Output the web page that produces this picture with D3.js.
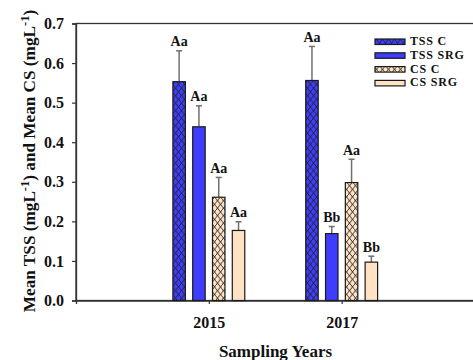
<!DOCTYPE html>
<html>
<head>
<meta charset="utf-8">
<script src="https://cdn.jsdelivr.net/npm/d3@7/dist/d3.min.js"></script>
<style>
  html, body { margin: 0; padding: 0; background: #fff; }
  svg { display: block; font-family: "Liberation Serif", "Times New Roman", serif; font-weight: bold; }
</style>
</head>
<body>
<div id="chart"></div>
<script>
// Sampling years and series
const years = [2015, 2017];
const seriesNames = ["TSS C", "TSS SRG", "CS C", "CS SRG"];
// Mean values (mg/L) per series, one entry per year
const tssC   = [0.553, 0.556];
const tssSRG = [0.439, 0.169];
const csC    = [0.261, 0.298];
const csSRG  = [0.177, 0.097];
// Upper error (standard error) per series
const tssCErr   = [0.078, 0.086];
const tssSRGErr = [0.053, 0.018];
const csCErr    = [0.050, 0.059];
const csSRGErr  = [0.022, 0.015];
// Significance letters
const tssCLab   = ["Aa", "Aa"];
const tssSRGLab = ["Aa", "Bb"];
const csCLab    = ["Aa", "Aa"];
const csSRGLab  = ["Aa", "Bb"];
const yTicks = [0.0, 0.1, 0.2, 0.3, 0.4, 0.5, 0.6, 0.7];

const W = 473, H = 360;
const mLeft = 76, mTop = 23.5, mRight = 474.5, mBottom = 300.5;

const blue = "#3d3dfb", peach = "#ffe2c4";
const fills = ["url(#zzBlue)", blue, "url(#zzPeach)", peach];
const values = [tssC, tssSRG, csC, csSRG];
const errs = [tssCErr, tssSRGErr, csCErr, csSRGErr];
const labs = [tssCLab, tssSRGLab, csCLab, csSRGLab];

const svg = d3.select("#chart").append("svg").attr("width", W).attr("height", H);

// zig-zag hatch fills
const defs = svg.append("defs");
function zigzag(id, bg) {
  const p = defs.append("pattern").attr("id", id).attr("patternUnits", "userSpaceOnUse")
    .attr("width", 6).attr("height", 7.5);
  p.append("rect").attr("width", 6).attr("height", 7.5).attr("fill", bg);
  p.append("path").attr("d", "M0,7.5 L6,0 M0,3.75 L3,7.5 M3,0 L6,3.75 M-1,6.25 L0,7.5")
    .attr("stroke", "#222").attr("stroke-width", 0.9).attr("fill", "none");
}
zigzag("zzBlue", blue);
zigzag("zzPeach", peach);

const x = d3.scaleLinear().domain([2013, 2019]).range([mLeft, mRight]);
const y = d3.scaleLinear().domain([0, 0.7]).range([mBottom, mTop]);
const inner = d3.scaleBand().domain(seriesNames).range([-39.6, 39.6])
  .paddingInner(0.37).paddingOuter(0.185);

// frame
svg.append("rect").attr("x", mLeft).attr("y", mTop).attr("width", mRight - mLeft).attr("height", mBottom - mTop)
  .attr("fill", "none").attr("stroke", "#333").attr("stroke-width", 1.3);

// axes
const yAxis = svg.append("g").attr("transform", `translate(${mLeft},0)`)
  .call(d3.axisLeft(y).tickValues(yTicks).tickFormat(d3.format(".1f")).tickSize(4).tickPadding(8));
yAxis.select(".domain").attr("stroke", "#333").attr("stroke-width", 1.3);
yAxis.selectAll(".tick line").attr("stroke", "#333").attr("stroke-width", 1.2);
yAxis.selectAll("text").attr("font-size", 16).attr("font-weight", "bold")
  .attr("font-family", "Liberation Serif").attr("fill", "#111");

const xAxis = svg.append("g").attr("transform", `translate(0,${mBottom})`)
  .call(d3.axisBottom(x).tickValues(years).tickFormat(d3.format("d")).tickSize(3.5).tickPadding(13));
xAxis.select(".domain").attr("stroke", "#333").attr("stroke-width", 1.3);
xAxis.selectAll(".tick line").attr("stroke", "#333").attr("stroke-width", 1.2);
xAxis.selectAll("text").attr("font-size", 16).attr("font-weight", "bold")
  .attr("font-family", "Liberation Serif").attr("fill", "#111");

// bars, error bars and letters
seriesNames.forEach((s, si) => {
  years.forEach((yr, yi) => {
    const x0 = x(yr) + inner(s);
    const bw = inner.bandwidth();
    const v = values[si][yi];
    const e = errs[si][yi];
    const cx = x0 + bw / 2;
    svg.append("line").attr("x1", cx).attr("x2", cx).attr("y1", y(v)).attr("y2", y(v + e))
      .attr("stroke", "#707070").attr("stroke-width", 1.5);
    svg.append("line").attr("x1", cx - 3).attr("x2", cx + 3).attr("y1", y(v + e)).attr("y2", y(v + e))
      .attr("stroke", "#707070").attr("stroke-width", 1.5);
    svg.append("rect").attr("x", x0).attr("y", y(v)).attr("width", bw).attr("height", y(0) - y(v))
      .attr("fill", fills[si]).attr("stroke", "#1a1a1a").attr("stroke-width", 1.2);
    svg.append("text").attr("x", cx).attr("y", y(v + e) - 4.5).attr("text-anchor", "middle")
      .attr("font-size", 14).attr("fill", "#111").text(labs[si][yi]);
  });
});

// legend
const leg = svg.append("g");
seriesNames.forEach((s, i) => {
  const yy = 45 + i * 13.8;
  leg.append("rect").attr("x", 375).attr("y", yy - 6).attr("width", 30).attr("height", 5.5)
    .attr("fill", fills[i]).attr("stroke", "#1a1a1a").attr("stroke-width", 1.2);
  leg.append("text").attr("x", 410).attr("y", yy).attr("font-size", 12)
    .attr("letter-spacing", 0.8).attr("fill", "#111").text(s);
});

// axis titles
svg.append("text").attr("x", 275.5).attr("y", 356.5).attr("text-anchor", "middle")
  .attr("font-size", 17).attr("fill", "#111").text("Sampling Years");

const yt = svg.append("text").attr("transform", `translate(35,${(mTop + mBottom) / 2 - 1}) rotate(-90)`)
  .attr("text-anchor", "middle").attr("font-size", 17.2).attr("fill", "#111");
yt.append("tspan").text("Mean TSS (mgL");
yt.append("tspan").attr("font-size", 12.5).attr("dy", -6.5).text("-1");
yt.append("tspan").attr("dy", 6.5).text(") and Mean CS (mgL");
yt.append("tspan").attr("font-size", 12.5).attr("dy", -6.5).text("-1");
yt.append("tspan").attr("dy", 6.5).text(")");
</script>
</body>
</html>
